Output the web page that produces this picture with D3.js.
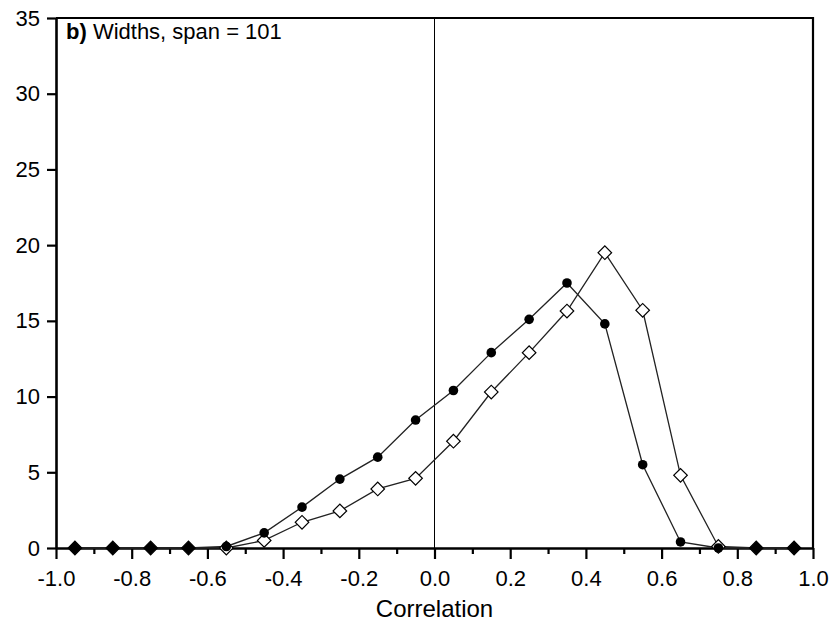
<!DOCTYPE html>
<html>
<head>
<meta charset="utf-8">
<script src="https://cdn.jsdelivr.net/npm/d3@7"></script>
<style>
  body { margin: 0; background: #fff; }
  svg { font-family: "Liberation Sans", Arial, sans-serif; }
</style>
</head>
<body>
<div id="chart"></div>
<script>
// bin centres (correlation)
const bins = [-0.95, -0.85, -0.75, -0.65, -0.55, -0.45, -0.35, -0.25, -0.15, -0.05,
              0.05, 0.15, 0.25, 0.35, 0.45, 0.55, 0.65, 0.75, 0.85, 0.95];
// filled circles
const seriesA = [0, 0, 0, 0, 0.1, 1.0, 2.7, 4.55, 6.0, 8.45,
                 10.4, 12.9, 15.1, 17.5, 14.8, 5.5, 0.4, 0, 0, 0];
// open diamonds
const seriesB = [0, 0, 0, 0, 0, 0.5, 1.7, 2.45, 3.9, 4.6,
                 7.05, 10.3, 12.9, 15.65, 19.5, 15.7, 4.8, 0.1, 0, 0];
const xTicks = [-1.0, -0.8, -0.6, -0.4, -0.2, 0.0, 0.2, 0.4, 0.6, 0.8, 1.0];
const yTicks = [0, 5, 10, 15, 20, 25, 30, 35];

const width = 835, height = 622;
const margin = {top: 18, right: 22, bottom: 74, left: 56};
const font = "Liberation Sans, Arial, sans-serif";

const svg = d3.select("#chart").append("svg")
  .attr("width", width).attr("height", height);

const x = d3.scaleLinear().domain([-1, 1]).range([margin.left, width - margin.right]);
const y = d3.scaleLinear().domain([0, 35]).range([height - margin.bottom, margin.top]);

// frame: top and right
svg.append("path")
  .attr("d", `M${x(-1)},${y(35)}H${x(1)}V${y(0)}`)
  .attr("fill", "none").attr("stroke", "#000").attr("stroke-width", 2.2);

// zero line
svg.append("line")
  .attr("x1", x(0)).attr("x2", x(0)).attr("y1", y(35)).attr("y2", y(0))
  .attr("stroke", "#000").attr("stroke-width", 1);

// x axis, minor ticks then major ticks
const xAxisG = svg.append("g").attr("transform", `translate(0,${y(0)})`);
xAxisG.append("g")
  .call(d3.axisBottom(x).tickValues(d3.range(-9, 10, 2).map(d => d / 10)).tickSize(6).tickFormat(""))
  .call(g => g.select(".domain").remove())
  .call(g => g.selectAll("line").attr("stroke-width", 2.2));
xAxisG.append("g")
  .call(d3.axisBottom(x).tickValues(xTicks).tickSize(11).tickPadding(11)
    .tickFormat(d => d.toFixed(1)).tickSizeOuter(0))
  .call(g => g.select(".domain").attr("stroke-width", 2.6))
  .call(g => g.selectAll("line").attr("stroke-width", 2.2))
  .call(g => g.selectAll("text").attr("font-size", 22).attr("fill", "#000").attr("font-family", font));

// y axis
svg.append("g").attr("transform", `translate(${x(-1)},0)`)
  .call(d3.axisLeft(y).tickValues(yTicks).tickSize(9).tickPadding(7).tickSizeOuter(0))
  .call(g => g.select(".domain").attr("stroke-width", 2.6))
  .call(g => g.selectAll("line").attr("stroke-width", 2.2))
  .call(g => g.selectAll("text").attr("font-size", 22).attr("fill", "#000").attr("font-family", font));

// x label
svg.append("text")
  .attr("x", x(0)).attr("y", 617)
  .attr("text-anchor", "middle").attr("font-size", 24)
  .text("Correlation");

// panel title
const title = svg.append("text").attr("x", 66).attr("y", 39).attr("font-size", 22);
title.append("tspan").attr("font-weight", "bold").text("b)");
title.append("tspan").text(" Widths, span = 101");

const line = d3.line().x(d => x(d[0])).y(d => y(d[1]));
const ptsA = bins.map((b, i) => [b, seriesA[i]]);
const ptsB = bins.map((b, i) => [b, seriesB[i]]);

svg.append("path").datum(ptsB).attr("d", line)
  .attr("fill", "none").attr("stroke", "#222").attr("stroke-width", 1.3);
svg.append("path").datum(ptsA).attr("d", line)
  .attr("fill", "none").attr("stroke", "#222").attr("stroke-width", 1.3);

svg.append("g").selectAll("path")
  .data(ptsB.map((p, i) => ({p, both0: p[1] === 0 && seriesA[i] === 0})))
  .join("path")
  .attr("transform", d => `translate(${x(d.p[0])},${y(d.p[1])}) rotate(45)`)
  .attr("d", d3.symbol().type(d3.symbolSquare).size(92))
  .attr("fill", d => d.both0 ? "#000" : "#fff")
  .attr("stroke", "#000").attr("stroke-width", 1.2);

svg.append("g").selectAll("circle")
  .data(ptsA.filter((p, i) => !(p[1] === 0 && seriesB[i] === 0) || p[0] > 0.7 && p[0] < 0.8))
  .join("circle")
  .attr("cx", d => x(d[0])).attr("cy", d => y(d[1]))
  .attr("r", 4.8).attr("fill", "#000");
</script>
</body>
</html>
